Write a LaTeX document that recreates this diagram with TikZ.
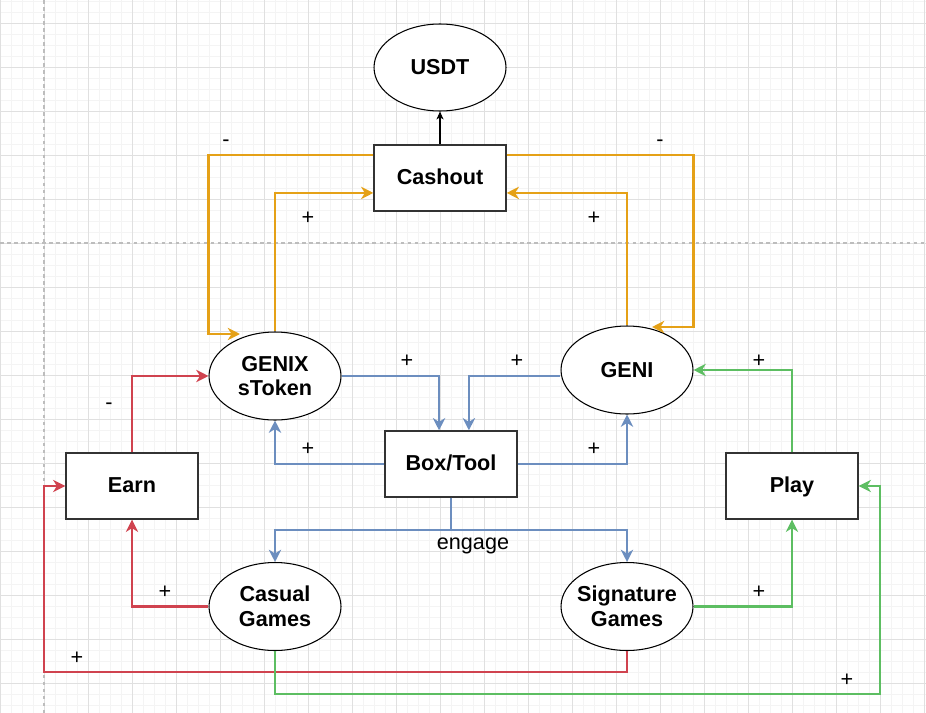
\documentclass[tikz,border=0pt]{standalone}
\usepackage{fontspec}
\setmainfont{Liberation Sans}
\usetikzlibrary{arrows.meta,shapes.geometric}

\definecolor{flowamber}{HTML}{E5A117}
\definecolor{flowblue}{HTML}{6C8EBF}
\definecolor{flowred}{HTML}{D0434F}
\definecolor{flowgreen}{HTML}{5DBE62}
\definecolor{gridminor}{HTML}{F4F4F4}
\definecolor{gridmajor}{HTML}{E0E0E0}
\definecolor{guide}{HTML}{BDBDBD}

\begin{document}
\begin{tikzpicture}[x=0.02cm, y=-0.02cm, line join=miter,
    token/.style={ellipse, draw=black, line width=0.6pt, fill=white,
                  minimum width=2.64cm, minimum height=1.76cm,
                  inner xsep=-4pt, inner ysep=0pt, align=center,
                  font=\fontsize{12.3}{14}\selectfont\bfseries},
    stage/.style={rectangle, draw=black!80, line width=0.75pt, fill=white,
                  minimum width=2.64cm, minimum height=1.32cm,
                  text height=10.3pt, text depth=2.5pt,
                  font=\fontsize{12.3}{14}\selectfont\bfseries},
    flow/.style={line width=1.2pt, -{Stealth[length=7pt,width=7pt,inset=2.2pt]}},
    sign/.style={anchor=base, inner sep=0pt, font=\fontsize{12.3}{14}\selectfont}]
  \useasboundingbox (0,0) rectangle (926,713);

  % Background grid (minor every 11, major every 44)
  \foreach \gx in {0,11,...,926} \draw[gridminor, line width=0.55pt] (\gx,0) -- (\gx,713);
  \foreach \gy in {1,12,...,713} \draw[gridminor, line width=0.55pt] (0,\gy) -- (926,\gy);
  \foreach \gx in {0,44,...,926} \draw[gridmajor, line width=0.55pt] (\gx,0) -- (\gx,713);
  \foreach \gy in {23,67,...,713} \draw[gridmajor, line width=0.55pt] (0,\gy) -- (926,\gy);

  % Page guides
  \draw[guide, line width=0.6pt, dash pattern=on 2pt off 2pt] (44,0) -- (44,713);
  \draw[guide, line width=0.6pt, dash pattern=on 2pt off 2pt] (0,243) -- (926,243);

  % Tokens and stages
  \node[token, minimum height=1.74cm] (usdt) at (440,67.5) {USDT};
  \node[stage] (cash)   at (440,178) {Cashout};
  \node[token]  (gx)     at (275,376) {GENIX\\sToken};
  \node[token]  (geni)   at (627,370) {GENI};
  \node[stage] (box)    at (451,464) {Box/Tool};
  \node[stage] (earn)   at (132,486) {Earn};
  \node[stage] (play)   at (792,486) {Play};
  \node[token]  (casual) at (275,606.5) {Casual\\Games};
  \node[token]  (sig)    at (627,606.5) {Signature\\Games};

  % Arrow ends and outer lanes
  \coordinate (gxin)      at (240,334);
  \coordinate (geniin)    at (652,327);
  \coordinate (redlane)   at (44,672);
  \coordinate (greenlane) at (880,694);

  % Cashout loop (amber)
  \draw[flow, flowamber] ([yshift=13pt]cash.west) -| (gx.west |- gxin) -- (gxin);
  \draw[flow, flowamber] (gx.north) |- ([yshift=-8.5pt]cash.west);
  \draw[flow, flowamber] ([yshift=13pt]cash.east) -| (geni.east |- geniin) -- (geniin);
  \draw[flow, flowamber] (geni.north) |- ([yshift=-8.5pt]cash.east);
  \draw[line width=0.6pt, -{Stealth[length=4.5pt,width=4pt,inset=1.2pt]}] (cash.north) -- (usdt.south);

  % Box/Tool (blue)
  \draw[flow, flowblue] (gx.east) -| ([xshift=-6.8pt]box.north);
  \draw[flow, flowblue] (geni.west |- gx.east) -| ([xshift=10.2pt]box.north);
  \draw[flow, flowblue] (box.west) -| (gx.south);
  \draw[flow, flowblue] (box.east) -| (geni.south);
  \draw[flow, flowblue] (box.south) -- ++(0,32) -| (casual.north);
  \draw[flow, flowblue] (box.south) -- ++(0,32) -| (sig.north);

  % Earn (red)
  \draw[flow, flowred] (earn.north) |- (gx.west);
  \draw[flow, flowred] (casual.west) -| (earn.south);
  \draw[flow, flowred] (sig.south) |- (redlane) |- (earn.west);

  % Play (green)
  \draw[flow, flowgreen] (play.north) |- (geni.east);
  \draw[flow, flowgreen] (sig.east) -| (play.south);
  \draw[flow, flowgreen] (casual.south) |- (greenlane) |- (play.east);

  % Signs
  \node[sign] (s1)  at (226,146) {-};
  \node[sign] (s2)  at (308,224) {+};
  \node[sign] (s3)  at (660,146) {-};
  \node[sign] (s4)  at (594,224) {+};
  \node[sign] (s5)  at (407,367) {+};
  \node[sign] (s6)  at (517,367) {+};
  \node[sign] (s7)  at (308,455) {+};
  \node[sign] (s8)  at (594,455) {+};
  \node[sign] (s9)  at (109,409) {-};
  \node[sign] (s10) at (165,598) {+};
  \node[sign] (s11) at (77,664)  {+};
  \node[sign] (s12) at (759,367) {+};
  \node[sign] (s13) at (759,598) {+};
  \node[sign] (s14) at (847,686) {+};
  \node[font=\fontsize{12.3}{14}\selectfont] (engage) at (473,546) {engage};
\end{tikzpicture}
\end{document}
